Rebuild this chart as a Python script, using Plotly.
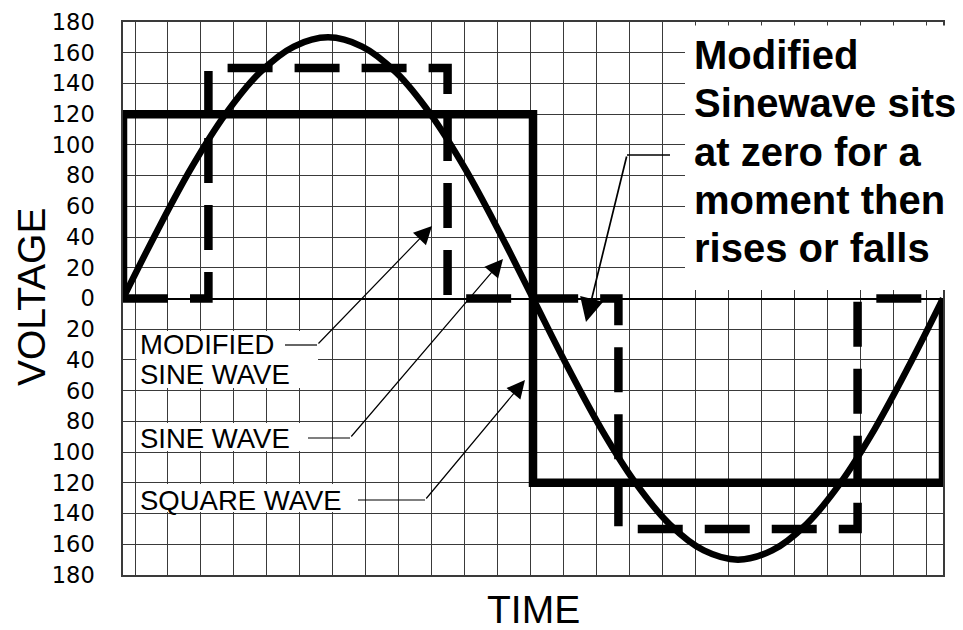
import plotly.graph_objects as go

# one full cycle, time in degrees, voltage in volts
sine_t = list(range(0, 361, 15))
sine_v = [0, 44, 85, 120, 147, 164, 170, 164, 147, 120, 85, 44,
          0, -44, -85, -120, -147, -164, -170, -164, -147, -120, -85, -44, 0]

square_t = [0, 0, 180, 360]
square_v = [0, 120, -120, 0]

modified_t = [0, 37.5, 142.5, 217.5, 322.5, 360]
modified_v = [0, 150, 0, -150, 0, 0]

volt_ticks = list(range(-180, 181, 20))
volt_labels = [str(abs(v)) for v in volt_ticks]

note_lines = ["Modified", "Sinewave sits", "at zero for a", "moment then", "rises or falls"]

# plot area in page pixels (the page body adds an 8px offset)
OFF = 8
L, R, T, B = 123, 943, 22, 575
W, H = 963 - OFF, 630 - OFF
FONT = "Liberation Sans, Arial, sans-serif"


def px(x):
    return (x - L) / (R - L)


def py(y):
    return (B - y) / (B - T)


fig = go.Figure()
fig.add_trace(go.Scatter(x=square_t, y=square_v, mode="lines", line_shape="hv",
                         line=dict(color="black", width=8.5)))
fig.add_trace(go.Scatter(x=modified_t, y=modified_v, mode="lines", line_shape="hv",
                         line=dict(color="black", width=8.5, dash="45px,22px")))
fig.add_trace(go.Scatter(x=sine_t, y=sine_v, mode="lines", line_shape="spline",
                         line=dict(color="black", width=6.5)))

grid = "#3a3a3a"
fig.update_layout(
    width=W, height=H,
    margin=dict(l=L - OFF, r=W + OFF - R, t=T - OFF, b=H + OFF - B),
    plot_bgcolor="white", paper_bgcolor="white",
    showlegend=False,
    xaxis=dict(range=[0, 360], showgrid=True, gridcolor=grid, gridwidth=1,
               tick0=5.27, dtick=14.47, showticklabels=False, ticks="",
               zeroline=False, showline=True, mirror=True, automargin=False,
               linecolor=grid, linewidth=1.5),
    yaxis=dict(range=[-180, 180], tickmode="array", tickvals=volt_ticks,
               ticktext=volt_labels, showgrid=True, gridcolor=grid, gridwidth=1,
               ticks="", ticklabelstandoff=22, automargin=False,
               tickfont=dict(family="DejaVu Sans", size=22.5, color="black"),
               zeroline=True, zerolinecolor="black", zerolinewidth=2,
               showline=True, mirror=True, linecolor=grid, linewidth=1.5),
)

# white boxes hiding the grid behind the texts
boxes = [(685, 25.5, 955, 290), (136.5, 331, 318, 388),
         (136.5, 423, 305, 451), (136.5, 484, 356, 512)]
for x0, y0, x1, y1 in boxes:
    fig.add_shape(type="rect", xref="paper", yref="paper", layer="above",
                  x0=px(x0), x1=px(x1), y0=py(y0), y1=py(y1),
                  fillcolor="white", line=dict(width=0))

# leaders: horizontal part, then diagonal arrow to the tip
leaders = [
    ((285, 345), (317, 345), (432, 226), 1.2, 3.0),
    ((308, 438), (350, 438), (503, 259), 1.2, 3.0),
    ((358, 500), (425, 500), (525, 380), 1.2, 3.0),
    ((670, 155), (627, 155), (586, 322), 1.7, 2.8),
]
for (hx, hy), (kx, ky), (tx, ty), w, s in leaders:
    fig.add_shape(type="line", xref="paper", yref="paper", layer="above",
                  x0=px(hx), y0=py(hy), x1=px(kx), y1=py(ky),
                  line=dict(color="black", width=w))
    fig.add_annotation(x=px(tx), y=py(ty), xref="paper", yref="paper", text="",
                       showarrow=True, arrowhead=2, arrowsize=s, arrowwidth=w,
                       arrowcolor="black", ax=kx - tx, ay=ky - ty, standoff=0)

labels = [("MODIFIED", 344), ("SINE WAVE", 374), ("SINE WAVE", 438), ("SQUARE WAVE", 500)]
for text, y in labels:
    fig.add_annotation(x=px(139), y=py(y), xref="paper", yref="paper", text=text,
                       showarrow=False, xanchor="left", yanchor="middle", borderpad=0,
                       font=dict(family=FONT, size=27.5, color="black"))

for i, line in enumerate(note_lines):
    fig.add_annotation(x=px(692), y=py(55 + 48.3 * i), xref="paper", yref="paper",
                       text=line, showarrow=False, xanchor="left", yanchor="middle",
                       font=dict(family=FONT, size=40, color="black", weight="bold"))

fig.add_annotation(x=px(533), y=py(610), xref="paper", yref="paper", text="TIME",
                   showarrow=False, xanchor="center", yanchor="middle",
                   font=dict(family=FONT, size=39, color="black"))
fig.add_annotation(x=px(31), y=py(297), xref="paper", yref="paper", text="VOLTAGE",
                   showarrow=False, xanchor="center", yanchor="middle", textangle=-90,
                   font=dict(family=FONT, size=39, color="black"))

fig.write_html("out.html")
